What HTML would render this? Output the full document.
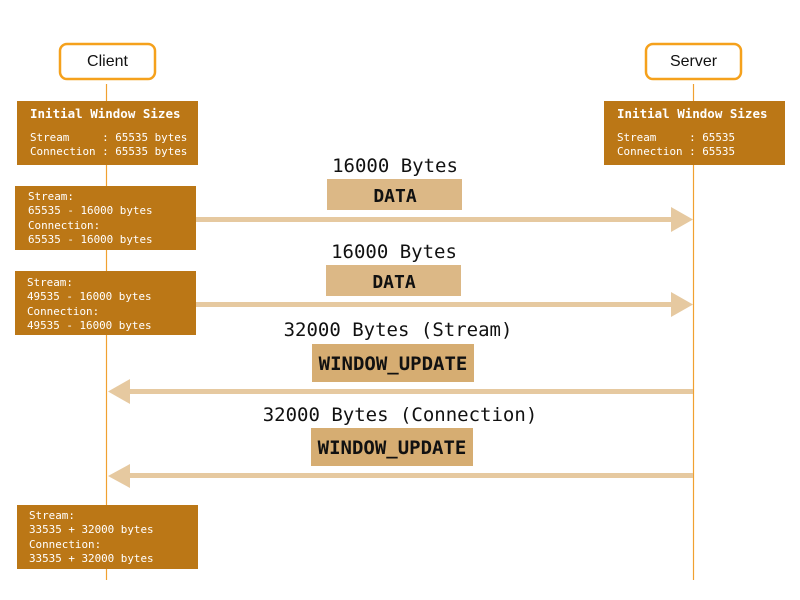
<!DOCTYPE html>
<html><head><style>
html,body{margin:0;padding:0;background:#fff;}
svg{display:block;}
.m{font-family:"DejaVu Sans Mono","Liberation Mono",monospace;white-space:pre;}
</style></head><body>
<svg width="800" height="600" viewBox="0 0 800 600" xmlns="http://www.w3.org/2000/svg">
<rect width="800" height="600" fill="#fff"/>
<line x1="106.5" y1="84" x2="106.5" y2="580" stroke="#f0a030" stroke-width="1.2"/>
<line x1="693.5" y1="84" x2="693.5" y2="580" stroke="#f0a030" stroke-width="1.2"/>
<rect x="60" y="44" width="95" height="35" rx="7" fill="#fff" stroke="#f5a11c" stroke-width="2.5"/>
<text x="107.5" y="66" text-anchor="middle" font-family="Liberation Sans,sans-serif" font-size="16" fill="#111">Client</text>
<rect x="646" y="44" width="95" height="35" rx="7" fill="#fff" stroke="#f5a11c" stroke-width="2.5"/>
<text x="693.5" y="66" text-anchor="middle" font-family="Liberation Sans,sans-serif" font-size="16" fill="#111">Server</text>
<g fill="#bb7716">
<rect x="17" y="101" width="181" height="64"/>
<rect x="604" y="101" width="181" height="64"/>
<rect x="15" y="186" width="181" height="64"/>
<rect x="15" y="271" width="181" height="64"/>
<rect x="17" y="505" width="181" height="64"/>
</g>
<g class="m" fill="#fff" font-size="10.9">
<text x="30" y="118" font-size="12.5" font-weight="bold">Initial Window Sizes</text>
<text x="30" y="141">Stream&#160;&#160;&#160;&#160;&#160;: 65535 bytes</text>
<text x="30" y="155">Connection : 65535 bytes</text>
<text x="617" y="118" font-size="12.5" font-weight="bold">Initial Window Sizes</text>
<text x="617" y="141">Stream&#160;&#160;&#160;&#160;&#160;: 65535</text>
<text x="617" y="155">Connection : 65535</text>
<text x="28" y="200">Stream:</text>
<text x="28" y="214">65535 - 16000 bytes</text>
<text x="28" y="229">Connection:</text>
<text x="28" y="243">65535 - 16000 bytes</text>
<text x="27" y="286">Stream:</text>
<text x="27" y="300">49535 - 16000 bytes</text>
<text x="27" y="315">Connection:</text>
<text x="27" y="329">49535 - 16000 bytes</text>
<text x="29" y="519">Stream:</text>
<text x="29" y="533">33535 + 32000 bytes</text>
<text x="29" y="548">Connection:</text>
<text x="29" y="562">33535 + 32000 bytes</text>
</g>
<g fill="#e6c9a0">
<rect x="196" y="217" width="478" height="5"/>
<polygon points="671,207 693,219.5 671,232"/>
<rect x="196" y="302" width="478" height="5"/>
<polygon points="671,292 693,304.5 671,317"/>
<rect x="128" y="389" width="565" height="5"/>
<polygon points="130,379 108,391.5 130,404"/>
<rect x="128" y="473" width="565" height="5"/>
<polygon points="130,464 108,476 130,488"/>
</g>
<rect x="327" y="179" width="135" height="31" fill="#dcb886"/>
<rect x="326" y="265" width="135" height="31" fill="#dcb886"/>
<rect x="312" y="344" width="162" height="38" fill="#d6ad72"/>
<rect x="311" y="428" width="162" height="38" fill="#d6ad72"/>
<g class="m" fill="#111" text-anchor="middle">
<text x="395" y="172" font-size="19">16000 Bytes</text>
<text x="395" y="202" font-size="18" font-weight="bold">DATA</text>
<text x="394" y="258" font-size="19">16000 Bytes</text>
<text x="394" y="288" font-size="18" font-weight="bold">DATA</text>
<text x="398" y="336" font-size="19">32000 Bytes (Stream)</text>
<text x="393" y="370" font-size="19" font-weight="bold">WINDOW_UPDATE</text>
<text x="400" y="421" font-size="19">32000 Bytes (Connection)</text>
<text x="392" y="454" font-size="19" font-weight="bold">WINDOW_UPDATE</text>
</g>
</svg>
</body></html>
